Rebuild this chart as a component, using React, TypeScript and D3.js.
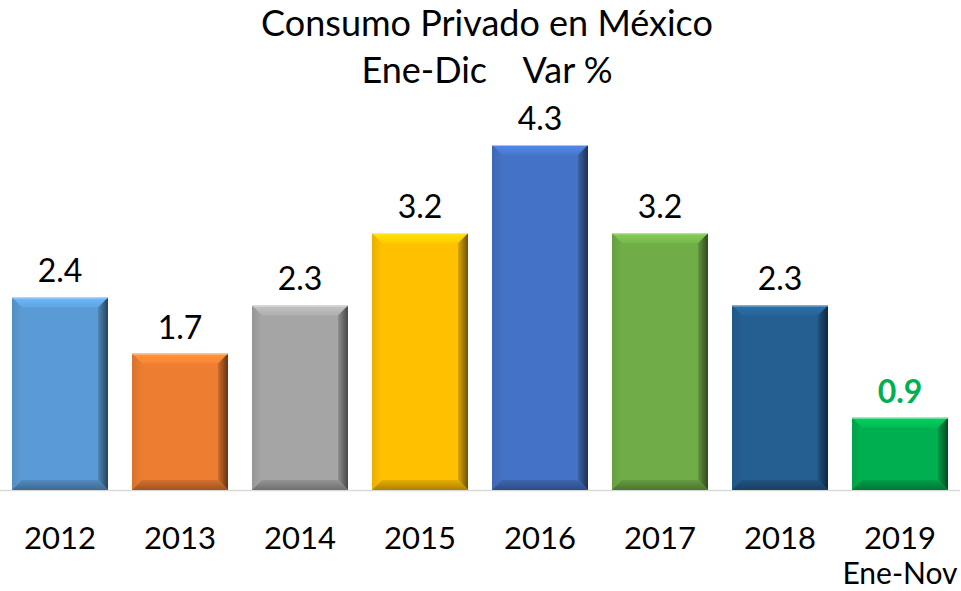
import React from "react";
import * as d3 from "d3";

const categories = ["2012", "2013", "2014", "2015", "2016", "2017", "2018", "2019"];
const subLabels = ["", "", "", "", "", "", "", "Ene-Nov"];
const values = [2.4, 1.7, 2.3, 3.2, 4.3, 3.2, 2.3, 0.9];
const barColors = ["#5B9BD5", "#ED7D31", "#A5A5A5", "#FFC000", "#4472C4", "#70AD47", "#255E91", "#00B050"];
const titleLines = ["Consumo Privado en México", "Ene-Dic    Var %"];

const W = 961, H = 591;
const FONT = "Lato, 'Open Sans', sans-serif";

export default function App() {
  const x = d3.scaleBand<string>().domain(categories).range([0, 960]).paddingInner(0.2).paddingOuter(0.1);
  const baseY = 490;
  const y = d3.scaleLinear().domain([0, 4.3]).range([baseY, 145]);
  const bw = x.bandwidth();
  const b = 10;
  return (
    <svg width={W} height={H} style={{ position: "absolute", left: 0, top: 0, background: "#fff" }}>
      <defs>
        {barColors.map((c, i) => {
          const base = d3.color(c)!;
          return (
            <React.Fragment key={i}>
              <linearGradient id={`top${i}`} x1="0" y1="0" x2="0" y2="1">
                <stop offset="0" stopColor={d3.color(c)!.brighter(0.5).formatHex()} />
                <stop offset="1" stopColor={d3.color(c)!.brighter(0.15).formatHex()} />
              </linearGradient>
              <linearGradient id={`right${i}`} x1="0" y1="0" x2="1" y2="0">
                <stop offset="0" stopColor={d3.color(c)!.darker(0.4).formatHex()} />
                <stop offset="1" stopColor={d3.color(c)!.darker(2.4).formatHex()} />
              </linearGradient>
              <linearGradient id={`left${i}`} x1="0" y1="0" x2="1" y2="0">
                <stop offset="0" stopColor={d3.color(c)!.darker(0.25).formatHex()} />
                <stop offset="1" stopColor={base.formatHex()} />
              </linearGradient>
              <linearGradient id={`bot${i}`} x1="0" y1="0" x2="0" y2="1">
                <stop offset="0" stopColor={d3.color(c)!.darker(0.3).formatHex()} />
                <stop offset="1" stopColor={d3.color(c)!.darker(1.1).formatHex()} />
              </linearGradient>
            </React.Fragment>
          );
        })}
      </defs>
      <line x1={0} x2={960} y1={baseY + 0.5} y2={baseY + 0.5} stroke="#D9D9D9" strokeWidth={1.5} />
      {categories.map((cat, i) => {
        const x0 = x(cat)!;
        const x1 = x0 + bw;
        const yt = y(values[i]);
        const yb = baseY;
        const bb = Math.min(b, (yb - yt) / 2);
        return (
          <g key={cat}>
            <rect x={x0} y={yt} width={bw} height={yb - yt} fill={barColors[i]} />
            <polygon points={`${x0},${yt} ${x1},${yt} ${x1 - bb},${yt + bb} ${x0 + bb},${yt + bb}`} fill={`url(#top${i})`} />
            <polygon points={`${x0},${yt} ${x0 + bb},${yt + bb} ${x0 + bb},${yb - bb} ${x0},${yb}`} fill={`url(#left${i})`} />
            <polygon points={`${x1},${yt} ${x1},${yb} ${x1 - bb},${yb - bb} ${x1 - bb},${yt + bb}`} fill={`url(#right${i})`} />
            <polygon points={`${x0},${yb} ${x0 + bb},${yb - bb} ${x1 - bb},${yb - bb} ${x1},${yb}`} fill={`url(#bot${i})`} />
            <line x1={x0} x2={x1} y1={yt + 0.5} y2={yt + 0.5} stroke="#ffffff" strokeOpacity={0.5} />
            <text x={x0 + bw / 2} y={yt - 15} textAnchor="middle" fontFamily={FONT}
              fontSize={32} fontWeight={i === 7 ? 700 : 400} fill={i === 7 ? "#00B050" : "#000"}>
              {values[i].toFixed(1)}
            </text>
            <text x={x0 + bw / 2} y={549} textAnchor="middle" fontFamily={FONT} fontSize={31} fill="#000">{cat}</text>
            {subLabels[i] && (
              <text x={x0 + bw / 2} y={584} textAnchor="middle" fontFamily={FONT} fontSize={30} fill="#000">{subLabels[i]}</text>
            )}
          </g>
        );
      })}
      {titleLines.map((t, i) => (
        <text key={i} x={487} y={36 + i * 47} textAnchor="middle" fontFamily={FONT} fontSize={36} fill="#000" style={{ whiteSpace: "pre" }}>{t}</text>
      ))}
    </svg>
  );
}
